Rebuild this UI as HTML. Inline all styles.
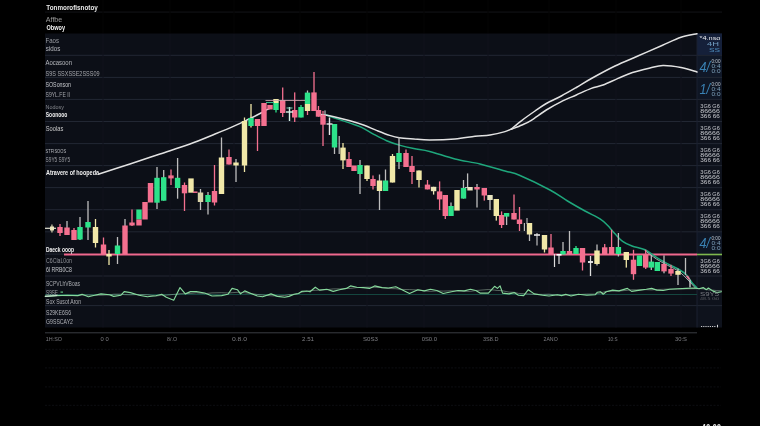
<!DOCTYPE html><html><head><meta charset="utf-8"><title>chart</title><style>html,body{margin:0;padding:0;background:#000;overflow:hidden}svg{display:block;filter:blur(0.45px)}text{font-family:"Liberation Sans",sans-serif}</style></head><body>
<svg width="760" height="426" viewBox="0 0 760 426">
<rect x="0" y="0" width="760" height="426" fill="#000"/>
<rect x="45" y="11.6" width="677" height="0.9" fill="#15161a"/>
<rect x="45" y="33.5" width="652" height="294" fill="#0c0f17"/>
<rect x="697" y="33.5" width="25" height="294" fill="#0e121c"/>
<rect x="697" y="33.5" width="25" height="21.7" fill="#15203a"/>
<rect x="697" y="55.5" width="25" height="21.7" fill="#101828"/>
<rect x="697" y="77.5" width="25" height="21.7" fill="#0f1624"/>
<rect x="697" y="232" width="25" height="22" fill="#0f1624"/>
<rect x="45" y="54.8" width="677" height="1" fill="#222733"/>
<rect x="45" y="76.9" width="677" height="1" fill="#222733"/>
<rect x="45" y="98.9" width="677" height="1" fill="#222733"/>
<rect x="45" y="121.0" width="677" height="1" fill="#222733"/>
<rect x="45" y="143.1" width="677" height="1" fill="#222733"/>
<rect x="45" y="165.1" width="677" height="1" fill="#222733"/>
<rect x="45" y="187.1" width="677" height="1" fill="#222733"/>
<rect x="45" y="209.2" width="677" height="1" fill="#222733"/>
<rect x="45" y="231.3" width="677" height="1" fill="#222733"/>
<rect x="45" y="275.5" width="677" height="1" fill="#222733"/>
<rect x="45" y="305.1" width="677" height="1" fill="#222733"/>
<rect x="45" y="253.6" width="19" height="1" fill="#222733"/>
<rect x="102.5" y="33.5" width="1" height="294" fill="#10131c"/>
<rect x="102.5" y="0" width="1" height="33.5" fill="#040405"/>
<rect x="169.5" y="33.5" width="1" height="294" fill="#10131c"/>
<rect x="169.5" y="0" width="1" height="33.5" fill="#040405"/>
<rect x="233.5" y="33.5" width="1" height="294" fill="#10131c"/>
<rect x="233.5" y="0" width="1" height="33.5" fill="#040405"/>
<rect x="299.5" y="33.5" width="1" height="294" fill="#10131c"/>
<rect x="299.5" y="0" width="1" height="33.5" fill="#040405"/>
<rect x="366.5" y="33.5" width="1" height="294" fill="#10131c"/>
<rect x="366.5" y="0" width="1" height="33.5" fill="#040405"/>
<rect x="423.5" y="33.5" width="1" height="294" fill="#10131c"/>
<rect x="423.5" y="0" width="1" height="33.5" fill="#040405"/>
<rect x="487.5" y="33.5" width="1" height="294" fill="#10131c"/>
<rect x="487.5" y="0" width="1" height="33.5" fill="#040405"/>
<rect x="548.5" y="33.5" width="1" height="294" fill="#10131c"/>
<rect x="548.5" y="0" width="1" height="33.5" fill="#040405"/>
<rect x="615.5" y="33.5" width="1" height="294" fill="#10131c"/>
<rect x="615.5" y="0" width="1" height="33.5" fill="#040405"/>
<rect x="680.5" y="33.5" width="1" height="294" fill="#10131c"/>
<rect x="680.5" y="0" width="1" height="33.5" fill="#040405"/>
<rect x="696.5" y="33.5" width="1" height="294" fill="#1a2030"/>
<line x1="45" x2="721" y1="349.3" y2="349.3" stroke="#0d0e12" stroke-width="1" stroke-dasharray="2 1.5"/>
<line x1="45" x2="721" y1="367.9" y2="367.9" stroke="#0d0e12" stroke-width="1" stroke-dasharray="2 1.5"/>
<line x1="45" x2="721" y1="386.9" y2="386.9" stroke="#0d0e12" stroke-width="1" stroke-dasharray="2 1.5"/>
<line x1="45" x2="721" y1="405.3" y2="405.3" stroke="#0d0e12" stroke-width="1" stroke-dasharray="2 1.5"/>
<rect x="45" y="332.3" width="652" height="1" fill="#3a3c42"/>
<rect x="45" y="294" width="652" height="1" fill="#14463f"/>
<rect x="64" y="253.5" width="633" height="2" fill="#f0688e"/>
<rect x="697" y="253.7" width="25" height="1.6" fill="#7fb84e"/>
<path d="M326.00,114.70 C327.33,115.23 330.00,116.50 334.00,117.90 C338.00,119.30 345.50,121.57 350.00,123.10 C354.50,124.63 357.03,125.23 361.00,127.10 C364.97,128.97 369.53,132.03 373.80,134.30 C378.07,136.57 382.35,138.90 386.60,140.70 C390.85,142.50 394.78,143.78 399.30,145.10 C403.82,146.42 408.65,147.55 413.70,148.60 C418.75,149.65 422.72,149.67 429.60,151.40 C436.48,153.13 446.60,156.90 455.00,159.00 C463.40,161.10 471.67,162.00 480.00,164.00 C488.33,166.00 498.33,169.08 505.00,171.00 C511.67,172.92 512.50,172.33 520.00,175.50 C527.50,178.67 542.08,185.75 550.00,190.00 C557.92,194.25 561.67,197.50 567.50,201.00 C573.33,204.50 579.58,208.03 585.00,211.00 C590.42,213.97 596.25,216.42 600.00,218.80 C603.75,221.18 605.00,222.80 607.50,225.30 C610.00,227.80 612.48,231.13 615.00,233.80 C617.52,236.47 619.77,239.27 622.60,241.30 C625.43,243.33 628.27,244.58 632.00,246.00 C635.73,247.42 640.93,247.92 645.00,249.80 C649.07,251.68 652.62,254.95 656.40,257.30 C660.18,259.65 663.93,261.87 667.70,263.90 C671.47,265.93 675.87,267.65 679.00,269.50 C682.13,271.35 684.33,272.80 686.50,275.00 C688.67,277.20 690.28,280.57 692.00,282.70 C693.72,284.83 696.00,286.95 696.80,287.80" fill="none" stroke="#1fa77c" stroke-width="1.5" stroke-linejoin="round" stroke-linecap="round" />
<path d="M645.00,250.50 C646.90,251.92 652.62,256.52 656.40,259.00 C660.18,261.48 663.93,263.33 667.70,265.40 C671.47,267.47 675.62,268.97 679.00,271.40 C682.38,273.83 685.33,277.30 688.00,280.00 C690.67,282.70 693.83,286.33 695.00,287.60" fill="none" stroke="#9fb0ab" stroke-width="1.0" stroke-linejoin="round" stroke-linecap="round" />
<path d="M99.00,174.00 C104.17,172.33 119.83,167.33 130.00,164.00 C140.17,160.67 150.00,157.33 160.00,154.00 C170.00,150.67 180.83,147.33 190.00,144.00 C199.17,140.67 207.50,137.07 215.00,134.00 C222.50,130.93 229.50,128.02 235.00,125.60 C240.50,123.18 243.67,121.60 248.00,119.50 C252.33,117.40 258.00,114.58 261.00,113.00 C264.00,111.42 264.33,110.83 266.00,110.00 C267.67,109.17 270.17,108.33 271.00,108.00" fill="none" stroke="#e2e2e2" stroke-width="1.5" stroke-linejoin="round" stroke-linecap="round" />
<path d="M321.20,114.40 C323.33,114.78 329.20,115.65 334.00,116.70 C338.80,117.75 344.97,119.28 350.00,120.70 C355.03,122.12 359.70,123.55 364.20,125.20 C368.70,126.85 372.75,128.90 377.00,130.60 C381.25,132.30 385.98,134.20 389.70,135.40 C393.42,136.60 395.30,137.20 399.30,137.80 C403.30,138.40 408.65,138.65 413.70,139.00 C418.75,139.35 422.72,139.90 429.60,139.90 C436.48,139.90 447.43,139.60 455.00,139.00 C462.57,138.40 469.17,136.97 475.00,136.30 C480.83,135.63 485.00,135.78 490.00,135.00 C495.00,134.22 501.40,132.63 505.00,131.60 C508.60,130.57 510.50,129.27 511.60,128.80" fill="none" stroke="#e2e2e2" stroke-width="1.5" stroke-linejoin="round" stroke-linecap="round" />
<path d="M511.60,128.80 C513.33,127.38 518.10,123.27 522.00,120.30 C525.90,117.33 530.95,113.80 535.00,111.00 C539.05,108.20 541.92,106.00 546.30,103.50 C550.68,101.00 556.30,98.67 561.30,96.00 C566.30,93.33 571.28,90.42 576.30,87.50 C581.32,84.58 584.95,82.08 591.40,78.50 C597.85,74.92 607.17,69.78 615.00,66.00 C622.83,62.22 630.57,59.22 638.40,55.80 C646.23,52.38 654.90,48.58 662.00,45.50 C669.10,42.42 675.17,39.25 681.00,37.30 C686.83,35.35 694.33,34.38 697.00,33.80" fill="none" stroke="#e2e2e2" stroke-width="1.5" stroke-linejoin="round" stroke-linecap="round" />
<path d="M511.60,129.20 C513.33,128.50 518.72,126.48 522.00,125.00 C525.28,123.52 527.25,122.80 531.30,120.30 C535.35,117.80 541.30,113.12 546.30,110.00 C551.30,106.88 556.30,104.10 561.30,101.60 C566.30,99.10 571.30,97.20 576.30,95.00 C581.30,92.80 586.85,90.07 591.30,88.40 C595.75,86.73 598.55,86.67 603.00,85.00 C607.45,83.33 613.08,80.48 618.00,78.40 C622.92,76.32 627.17,74.23 632.50,72.50 C637.83,70.77 644.92,69.17 650.00,68.00 C655.08,66.83 657.83,65.58 663.00,65.50 C668.17,65.42 675.33,66.42 681.00,67.50 C686.67,68.58 694.33,71.25 697.00,72.00" fill="none" stroke="#e2e2e2" stroke-width="1.5" stroke-linejoin="round" stroke-linecap="round" />
<rect x="59.35" y="224.0" width="1.3" height="12.0" fill="#f4708f"/>
<rect x="57.30" y="227.0" width="5.4" height="6.0" fill="#f4708f"/>
<rect x="66.35" y="221.0" width="1.3" height="14.0" fill="#bdbdbd"/>
<rect x="64.30" y="227.5" width="5.4" height="7.5" fill="#f4708f"/>
<rect x="73.35" y="228.0" width="1.3" height="12.0" fill="#f4708f"/>
<rect x="71.30" y="230.0" width="5.4" height="10.0" fill="#f4708f"/>
<rect x="79.35" y="217.0" width="1.3" height="23.0" fill="#bdbdbd"/>
<rect x="77.30" y="227.0" width="5.4" height="12.5" fill="#2de38a"/>
<rect x="87.35" y="201.0" width="1.3" height="39.0" fill="#bdbdbd"/>
<rect x="85.30" y="222.0" width="5.4" height="5.5" fill="#2de38a"/>
<rect x="94.85" y="219.0" width="1.3" height="28.5" fill="#f1e8a8"/>
<rect x="92.80" y="227.0" width="5.4" height="16.0" fill="#f1e8a8"/>
<rect x="102.85" y="237.5" width="1.3" height="16.5" fill="#f4708f"/>
<rect x="100.80" y="244.5" width="5.4" height="9.5" fill="#f4708f"/>
<rect x="108.35" y="250.0" width="1.3" height="15.0" fill="#f1e8a8"/>
<rect x="106.30" y="254.0" width="5.4" height="2.5" fill="#f1e8a8"/>
<rect x="116.85" y="237.0" width="1.3" height="27.0" fill="#bdbdbd"/>
<rect x="114.80" y="245.5" width="5.4" height="8.5" fill="#2de38a"/>
<rect x="124.35" y="219.0" width="1.3" height="35.0" fill="#bdbdbd"/>
<rect x="122.30" y="225.5" width="5.4" height="28.5" fill="#f4708f"/>
<rect x="131.35" y="209.5" width="1.3" height="16.5" fill="#f4708f"/>
<rect x="129.30" y="222.5" width="5.4" height="3.0" fill="#f4708f"/>
<rect x="136.30" y="209.5" width="5.4" height="10.0" fill="#2de38a"/>
<rect x="136.30" y="219.5" width="5.4" height="6.0" fill="#f4708f"/>
<rect x="142.30" y="202.0" width="5.4" height="17.5" fill="#f4708f"/>
<rect x="147.80" y="183.0" width="5.4" height="19.5" fill="#f4708f"/>
<rect x="156.35" y="167.0" width="1.3" height="42.0" fill="#bdbdbd"/>
<rect x="154.30" y="177.8" width="5.4" height="24.9" fill="#2de38a"/>
<rect x="163.05" y="170.0" width="1.3" height="30.7" fill="#bdbdbd"/>
<rect x="161.00" y="177.2" width="5.4" height="23.5" fill="#2de38a"/>
<rect x="170.35" y="169.5" width="1.3" height="15.5" fill="#f4708f"/>
<rect x="168.30" y="175.4" width="5.4" height="3.0" fill="#f4708f"/>
<rect x="176.95" y="158.0" width="1.3" height="40.7" fill="#bdbdbd"/>
<rect x="174.90" y="177.8" width="5.4" height="10.2" fill="#2de38a"/>
<rect x="183.85" y="182.5" width="1.3" height="28.5" fill="#f4708f"/>
<rect x="181.80" y="185.0" width="5.4" height="8.3" fill="#f4708f"/>
<rect x="188.30" y="178.4" width="5.4" height="14.3" fill="#f1e8a8"/>
<rect x="199.85" y="189.0" width="1.3" height="21.0" fill="#bdbdbd"/>
<rect x="197.80" y="192.5" width="5.4" height="9.5" fill="#d9d3a8"/>
<rect x="207.35" y="192.0" width="1.3" height="22.5" fill="#bdbdbd"/>
<rect x="205.30" y="195.0" width="5.4" height="7.0" fill="#2de38a"/>
<rect x="213.85" y="165.0" width="1.3" height="40.5" fill="#f4708f"/>
<rect x="211.80" y="191.0" width="5.4" height="11.5" fill="#f4708f"/>
<rect x="220.85" y="137.5" width="1.3" height="56.5" fill="#bdbdbd"/>
<rect x="218.80" y="157.5" width="5.4" height="36.5" fill="#f1e8a8"/>
<rect x="228.35" y="149.5" width="1.3" height="15.0" fill="#f4708f"/>
<rect x="226.30" y="157.0" width="5.4" height="7.5" fill="#f4708f"/>
<rect x="235.35" y="159.0" width="1.3" height="23.0" fill="#bdbdbd"/>
<rect x="233.30" y="162.5" width="5.4" height="3.0" fill="#f1e8a8"/>
<rect x="243.85" y="117.5" width="1.3" height="54.5" fill="#f1e8a8"/>
<rect x="241.80" y="121.0" width="5.4" height="44.5" fill="#f1e8a8"/>
<rect x="250.35" y="104.0" width="1.3" height="23.5" fill="#f1e8a8"/>
<rect x="248.30" y="118.0" width="5.4" height="8.0" fill="#2de38a"/>
<rect x="256.85" y="119.0" width="1.3" height="32.0" fill="#f4708f"/>
<rect x="254.80" y="119.0" width="5.4" height="7.0" fill="#f4708f"/>
<rect x="261.30" y="103.0" width="5.4" height="23.0" fill="#f4708f"/>
<rect x="267.30" y="105.0" width="5.4" height="4.5" fill="#f4708f"/>
<rect x="273.30" y="99.0" width="5.4" height="4.0" fill="#f1e8a8"/>
<rect x="275.35" y="103.0" width="1.3" height="9.5" fill="#2de38a"/>
<rect x="273.30" y="103.0" width="5.4" height="7.0" fill="#2de38a"/>
<rect x="282.05" y="87.5" width="1.3" height="29.5" fill="#f4708f"/>
<rect x="280.00" y="100.0" width="5.4" height="13.0" fill="#f4708f"/>
<rect x="294.05" y="92.4" width="1.3" height="29.6" fill="#f4708f"/>
<rect x="292.00" y="110.0" width="5.4" height="7.5" fill="#f4708f"/>
<rect x="300.35" y="105.0" width="1.3" height="12.5" fill="#2de38a"/>
<rect x="298.30" y="107.0" width="5.4" height="10.5" fill="#2de38a"/>
<rect x="306.85" y="90.5" width="1.3" height="13.5" fill="#bdbdbd"/>
<rect x="304.80" y="92.6" width="5.4" height="11.4" fill="#2de38a"/>
<rect x="306.85" y="104.0" width="1.3" height="11.0" fill="#f4708f"/>
<rect x="304.80" y="104.0" width="5.4" height="7.0" fill="#f1e8a8"/>
<rect x="313.35" y="72.0" width="1.3" height="39.0" fill="#f4708f"/>
<rect x="311.30" y="92.4" width="5.4" height="18.6" fill="#f4708f"/>
<rect x="317.85" y="106.0" width="1.3" height="10.7" fill="#f4708f"/>
<rect x="315.80" y="110.0" width="5.4" height="6.7" fill="#f4708f"/>
<rect x="322.35" y="111.0" width="1.3" height="35.0" fill="#f4708f"/>
<rect x="320.30" y="115.0" width="5.4" height="9.7" fill="#f4708f"/>
<rect x="333.85" y="124.0" width="1.3" height="30.0" fill="#bdbdbd"/>
<rect x="331.80" y="124.0" width="5.4" height="23.5" fill="#2de38a"/>
<rect x="342.35" y="143.0" width="1.3" height="26.0" fill="#f1e8a8"/>
<rect x="340.30" y="147.6" width="5.4" height="12.8" fill="#f1e8a8"/>
<rect x="348.35" y="152.0" width="1.3" height="15.0" fill="#f4708f"/>
<rect x="346.30" y="159.0" width="5.4" height="8.0" fill="#f4708f"/>
<rect x="351.30" y="165.5" width="5.4" height="5.5" fill="#f4708f"/>
<rect x="359.35" y="160.0" width="1.3" height="34.0" fill="#bdbdbd"/>
<rect x="357.30" y="165.0" width="5.4" height="9.0" fill="#2de38a"/>
<rect x="366.35" y="165.5" width="1.3" height="15.5" fill="#f1e8a8"/>
<rect x="364.30" y="165.5" width="5.4" height="13.5" fill="#f1e8a8"/>
<rect x="372.35" y="175.5" width="1.3" height="14.0" fill="#f4708f"/>
<rect x="370.30" y="179.0" width="5.4" height="7.0" fill="#f4708f"/>
<rect x="378.85" y="174.5" width="1.3" height="35.5" fill="#bdbdbd"/>
<rect x="376.80" y="180.5" width="5.4" height="10.5" fill="#f1e8a8"/>
<rect x="384.85" y="169.5" width="1.3" height="21.5" fill="#bdbdbd"/>
<rect x="382.80" y="180.5" width="5.4" height="10.5" fill="#2de38a"/>
<rect x="391.85" y="154.0" width="1.3" height="28.5" fill="#f1e8a8"/>
<rect x="389.80" y="156.0" width="5.4" height="26.5" fill="#f1e8a8"/>
<rect x="398.35" y="137.0" width="1.3" height="32.0" fill="#bdbdbd"/>
<rect x="396.30" y="153.0" width="5.4" height="9.0" fill="#2de38a"/>
<rect x="405.35" y="149.5" width="1.3" height="17.5" fill="#f4708f"/>
<rect x="403.30" y="153.0" width="5.4" height="14.0" fill="#f4708f"/>
<rect x="411.35" y="156.0" width="1.3" height="28.0" fill="#f4708f"/>
<rect x="409.30" y="166.0" width="5.4" height="6.0" fill="#f4708f"/>
<rect x="418.35" y="170.5" width="1.3" height="17.0" fill="#f1e8a8"/>
<rect x="416.30" y="170.5" width="5.4" height="9.5" fill="#f1e8a8"/>
<rect x="426.85" y="180.0" width="1.3" height="9.4" fill="#f4708f"/>
<rect x="424.80" y="184.6" width="5.4" height="4.8" fill="#f4708f"/>
<rect x="432.95" y="186.8" width="1.3" height="7.8" fill="#ece6b8"/>
<rect x="430.90" y="186.8" width="5.4" height="4.4" fill="#ece6b8"/>
<rect x="438.95" y="181.4" width="1.3" height="28.6" fill="#f4708f"/>
<rect x="436.90" y="191.4" width="5.4" height="8.0" fill="#f4708f"/>
<rect x="444.65" y="195.0" width="1.3" height="24.0" fill="#f4708f"/>
<rect x="442.60" y="195.0" width="5.4" height="21.0" fill="#f4708f"/>
<rect x="450.35" y="202.5" width="1.3" height="13.5" fill="#bdbdbd"/>
<rect x="448.30" y="206.0" width="5.4" height="10.0" fill="#2de38a"/>
<rect x="454.30" y="190.0" width="5.4" height="20.6" fill="#f1e8a8"/>
<rect x="462.85" y="180.0" width="1.3" height="18.6" fill="#bdbdbd"/>
<rect x="460.80" y="188.0" width="5.4" height="10.6" fill="#2de38a"/>
<rect x="466.95" y="173.4" width="1.3" height="14.6" fill="#bdbdbd"/>
<rect x="464.90" y="187.0" width="5.4" height="1.0" fill="#bdbdbd"/>
<rect x="467.30" y="187.0" width="5.4" height="3.5" fill="#e8e4c0"/>
<rect x="476.35" y="184.0" width="1.3" height="23.5" fill="#bdbdbd"/>
<rect x="474.30" y="187.0" width="5.4" height="2.5" fill="#f4708f"/>
<rect x="483.65" y="188.0" width="1.3" height="12.6" fill="#f4708f"/>
<rect x="481.60" y="188.0" width="5.4" height="7.5" fill="#f4708f"/>
<rect x="489.35" y="195.0" width="1.3" height="15.0" fill="#bdbdbd"/>
<rect x="487.30" y="195.0" width="5.4" height="5.0" fill="#e8e4c0"/>
<rect x="495.65" y="199.0" width="1.3" height="21.6" fill="#f1e8a8"/>
<rect x="493.60" y="199.0" width="5.4" height="17.0" fill="#f1e8a8"/>
<rect x="500.95" y="211.4" width="1.3" height="16.6" fill="#f4708f"/>
<rect x="498.90" y="215.0" width="5.4" height="10.0" fill="#f4708f"/>
<rect x="505.95" y="213.0" width="1.3" height="12.0" fill="#bdbdbd"/>
<rect x="503.90" y="213.0" width="5.4" height="3.6" fill="#2de38a"/>
<rect x="513.35" y="194.5" width="1.3" height="25.0" fill="#f4708f"/>
<rect x="511.30" y="213.0" width="5.4" height="6.5" fill="#f4708f"/>
<rect x="518.85" y="207.0" width="1.3" height="24.0" fill="#f4708f"/>
<rect x="516.80" y="219.5" width="5.4" height="4.5" fill="#f4708f"/>
<rect x="528.85" y="223.0" width="1.3" height="18.0" fill="#bdbdbd"/>
<rect x="526.80" y="223.0" width="5.4" height="11.5" fill="#f1e8a8"/>
<rect x="543.85" y="235.0" width="1.3" height="17.5" fill="#f1e8a8"/>
<rect x="541.80" y="235.0" width="5.4" height="14.5" fill="#f1e8a8"/>
<rect x="550.35" y="234.0" width="1.3" height="20.0" fill="#f4708f"/>
<rect x="548.30" y="247.5" width="5.4" height="6.5" fill="#f4708f"/>
<rect x="562.35" y="242.0" width="1.3" height="12.5" fill="#bdbdbd"/>
<rect x="560.30" y="251.0" width="5.4" height="3.5" fill="#2de38a"/>
<rect x="568.85" y="231.0" width="1.3" height="23.5" fill="#bdbdbd"/>
<rect x="566.80" y="251.0" width="5.4" height="3.5" fill="#f4708f"/>
<rect x="575.35" y="246.0" width="1.3" height="8.0" fill="#2de38a"/>
<rect x="573.30" y="248.0" width="5.4" height="6.0" fill="#2de38a"/>
<rect x="581.85" y="248.0" width="1.3" height="22.5" fill="#f4708f"/>
<rect x="579.80" y="248.0" width="5.4" height="14.5" fill="#f4708f"/>
<rect x="596.35" y="244.5" width="1.3" height="21.0" fill="#bdbdbd"/>
<rect x="594.30" y="250.5" width="5.4" height="13.5" fill="#f1e8a8"/>
<rect x="604.05" y="244.0" width="1.3" height="10.8" fill="#f4708f"/>
<rect x="602.00" y="247.3" width="5.4" height="7.5" fill="#f4708f"/>
<rect x="610.95" y="229.7" width="1.3" height="25.1" fill="#f4708f"/>
<rect x="608.90" y="247.0" width="5.4" height="7.8" fill="#f4708f"/>
<rect x="617.75" y="233.0" width="1.3" height="23.5" fill="#bdbdbd"/>
<rect x="615.70" y="247.0" width="5.4" height="7.0" fill="#2de38a"/>
<rect x="625.65" y="252.0" width="1.3" height="15.6" fill="#f1e8a8"/>
<rect x="623.60" y="252.0" width="5.4" height="8.0" fill="#f1e8a8"/>
<rect x="632.85" y="249.8" width="1.3" height="30.0" fill="#f4708f"/>
<rect x="630.80" y="259.7" width="5.4" height="14.5" fill="#f4708f"/>
<rect x="636.80" y="255.4" width="5.4" height="10.6" fill="#2de38a"/>
<rect x="645.05" y="249.8" width="1.3" height="19.2" fill="#f4708f"/>
<rect x="643.00" y="254.5" width="5.4" height="13.1" fill="#f4708f"/>
<rect x="650.65" y="255.0" width="1.3" height="15.0" fill="#bdbdbd"/>
<rect x="648.60" y="261.6" width="5.4" height="6.0" fill="#2de38a"/>
<rect x="654.60" y="262.0" width="5.4" height="9.0" fill="#2de38a"/>
<rect x="663.35" y="255.4" width="1.3" height="17.9" fill="#bdbdbd"/>
<rect x="661.30" y="263.9" width="5.4" height="7.5" fill="#f4708f"/>
<rect x="670.35" y="264.8" width="1.3" height="11.2" fill="#f4708f"/>
<rect x="668.30" y="269.0" width="5.4" height="4.6" fill="#f4708f"/>
<rect x="677.35" y="268.6" width="1.3" height="16.4" fill="#bdbdbd"/>
<rect x="675.30" y="271.0" width="5.4" height="3.8" fill="#f1e8a8"/>
<rect x="523.80" y="223.0" width="1.2" height="8.0" fill="#bdbdbd"/>
<rect x="526.45" y="218.0" width="1.1" height="6.0" fill="#bdbdbd"/>
<rect x="338.60" y="136.0" width="1.2" height="18.0" fill="#bdbdbd"/>
<rect x="324.40" y="110.4" width="1.2" height="4.6" fill="#bdbdbd"/>
<rect x="536.40" y="233.0" width="1.2" height="12.5" fill="#bdbdbd"/>
<rect x="553.90" y="254.0" width="1.2" height="13.0" fill="#dddddd"/>
<rect x="558.40" y="254.0" width="1.2" height="10.0" fill="#dddddd"/>
<rect x="589.85" y="256.0" width="1.3" height="20.0" fill="#dddddd"/>
<rect x="684.85" y="258.0" width="1.3" height="17.0" fill="#bdbdbd"/>
<rect x="689.35" y="279.8" width="1.3" height="7.6" fill="#d8d8d8"/>
<rect x="288.80" y="107.0" width="1.4" height="14.0" fill="#d6efe6"/>
<rect x="328.80" y="117.5" width="1.4" height="17.5" fill="#e6e6e6"/>
<rect x="45.0" y="227.70" width="11.0" height="1.2" fill="#e0e0d0"/>
<rect x="193.0" y="191.45" width="4.5" height="1.5" fill="#f4708f"/>
<rect x="286.0" y="111.30" width="7.0" height="1.4" fill="#d6efe6"/>
<rect x="286.5" y="107.50" width="6.0" height="1.0" fill="#7fd4b8"/>
<rect x="326.5" y="123.30" width="6.0" height="1.4" fill="#e6e6e6"/>
<rect x="534.0" y="234.20" width="6.0" height="1.6" fill="#e6e6e6"/>
<rect x="556.5" y="254.00" width="5.0" height="1.6" fill="#ffffff"/>
<rect x="588.0" y="261.10" width="5.0" height="1.8" fill="#eeeeee"/>
<rect x="265.5" y="99.95" width="39.5" height="0.9" fill="#c9a0a8"/>
<rect x="266.0" y="102.00" width="8.0" height="1.0" fill="#35b98a"/>
<rect x="50" y="226.5" width="4" height="4" fill="#ece7bd"/><rect x="51.4" y="224.5" width="1.1" height="8" fill="#ece7bd"/>
<polygon points="685.5,275.5 688,275.8 690.5,279.5 688.5,279.8" fill="#f07a9a"/>
<polyline points="45.3,295.7 56.8,295.4 67.4,295.7 77.9,295.6 82.1,295.2 88.4,295.1 94.7,295.3 101.0,295.2 109.5,294.8 113.7,294.2 121.0,294.2 124.2,294.6 130.5,294.8 139.0,294.5 147.4,294.8 155.8,296.0 161.7,295.3 166.3,295.1 173.7,294.4 180.0,293.8 185.3,293.6 190.5,293.4 196.3,292.8 204.7,293.7 212.0,292.9 221.6,292.7 227.9,293.0 232.1,292.7 237.4,292.3 240.5,292.4 244.7,292.7 251.0,293.5 257.4,294.5 262.6,295.0 271.0,295.8 277.4,295.9 284.7,295.5 289.0,294.7 294.2,294.3 298.4,293.7 301.6,292.2 306.8,291.3 310.0,290.6 315.3,290.3 319.5,290.1 326.8,289.7 333.2,288.9 339.5,288.9 346.3,288.5 350.5,288.4 356.8,287.6 363.2,287.3 369.5,287.2 374.7,287.3 382.1,287.6 388.4,288.5 395.8,288.7 401.0,289.4 409.5,289.6 417.9,290.0 424.2,291.0 430.5,291.3 436.8,290.9 443.2,291.1 451.6,290.8 457.9,291.0 464.2,291.4 470.5,291.3 475.8,290.5 480.0,290.2 488.4,289.5 494.6,290.1 497.4,290.5 500.1,290.5 502.6,290.8 509.0,292.1 514.2,292.3 518.4,293.4 523.7,293.7 528.3,294.0 534.2,294.3 542.6,294.4 549.0,294.2 557.4,295.1 561.6,295.2 565.8,295.2 571.0,295.0 578.4,294.6 586.8,294.1 595.3,294.1 597.4,293.5 600.5,292.9 603.2,292.2 606.3,291.3 612.6,291.2 619.0,291.0 627.4,290.3 631.6,289.8 640.0,289.8 646.3,289.7 651.6,289.9 656.8,289.5 663.2,289.3 669.5,289.1 677.9,289.1 686.3,288.8 694.7,288.7 699.0,288.5 703.2,288.8 706.3,289.4 708.4,289.9 712.6,290.1 716.8,290.6 721.5,290.8" fill="none" stroke="#b9d8bf" stroke-width="0.8" stroke-linejoin="round" stroke-linecap="round" opacity="0.55"/>
<polyline points="45.3,296.4 56.8,295.6 67.4,295.2 77.9,295.6 82.1,294.3 88.4,296.8 94.7,295.2 101.0,293.9 109.5,294.7 113.7,296.4 121.0,295.2 124.2,291.6 130.5,292.6 139.0,295.2 147.4,296.8 155.8,295.8 161.7,294.3 166.3,297.3 173.7,300.2 180.0,287.6 185.3,293.9 190.5,291.6 196.3,291.6 204.7,293.0 212.0,296.0 221.6,295.6 227.9,294.3 232.1,288.4 237.4,289.7 240.5,293.9 244.7,290.9 251.0,293.5 257.4,296.0 262.6,296.8 271.0,293.9 277.4,296.4 284.7,297.3 289.0,296.4 294.2,294.3 298.4,293.5 301.6,291.4 306.8,291.0 310.0,291.8 315.3,287.2 319.5,290.1 326.8,289.3 333.2,291.4 339.5,289.7 346.3,288.4 350.5,285.9 356.8,287.2 363.2,287.6 369.5,288.4 374.7,285.9 382.1,287.6 388.4,288.0 395.8,286.7 401.0,289.3 409.5,293.5 417.9,289.7 424.2,290.9 430.5,289.3 436.8,290.5 443.2,293.5 451.6,291.8 457.9,290.5 464.2,290.9 470.5,289.3 475.8,290.5 480.0,293.1 488.4,293.1 494.6,286.3 497.4,288.4 500.1,285.9 502.6,293.1 509.0,293.9 514.2,292.6 518.4,295.2 523.7,295.6 528.3,289.7 534.2,293.9 542.6,295.2 549.0,296.0 557.4,294.7 561.6,295.6 565.8,294.3 571.0,296.0 578.4,294.3 586.8,295.2 595.3,294.7 597.4,292.2 600.5,291.8 603.2,294.2 606.3,291.8 612.6,290.1 619.0,290.9 627.4,288.4 631.6,291.4 640.0,290.1 646.3,289.3 651.6,288.4 656.8,290.1 663.2,290.5 669.5,289.3 677.9,288.8 686.3,288.4 694.7,288.0 699.0,288.8 703.2,287.6 706.3,289.7 708.4,288.0 712.6,290.9 716.8,292.6 721.5,291.8" fill="none" stroke="#86d99c" stroke-width="1.15" stroke-linejoin="round" stroke-linecap="round" />
<polyline points="45.3,296.4 56.8,295.6" fill="none" stroke="#cfe6d4" stroke-width="1.0" stroke-linejoin="round" stroke-linecap="round" />
<text x="46.3" y="10.2" font-size="7.2" fill="#e8e8e8" font-weight="bold" text-anchor="start" textLength="51.5" lengthAdjust="spacingAndGlyphs">Tonmorofisnotoy</text>
<text x="45.8" y="22.2" font-size="6.6" fill="#9a9a9a" font-weight="normal" text-anchor="start" textLength="16.5" lengthAdjust="spacingAndGlyphs">Affbe</text>
<text x="46.5" y="30.2" font-size="7.2" fill="#f2f2f2" font-weight="bold" text-anchor="start" textLength="18.5" lengthAdjust="spacingAndGlyphs">Obwoy</text>
<text x="45.5" y="42.9" font-size="6.4" fill="#9a9ca2" font-weight="normal" text-anchor="start" textLength="13.5" lengthAdjust="spacingAndGlyphs">Faos</text>
<text x="45.8" y="51.4" font-size="6.4" fill="#b8bac0" font-weight="normal" text-anchor="start" textLength="14.5" lengthAdjust="spacingAndGlyphs">sidos</text>
<text x="45.5" y="65.4" font-size="6.4" fill="#b4b6bb" font-weight="normal" text-anchor="start" textLength="26.5" lengthAdjust="spacingAndGlyphs">Aocasoon</text>
<text x="45.5" y="75.8" font-size="6.6" fill="#a4a6ab" font-weight="normal" text-anchor="start" textLength="54.0" lengthAdjust="spacingAndGlyphs">S9S SSXSSE2SSS09</text>
<text x="45.5" y="86.9" font-size="6.6" fill="#c4c6ca" font-weight="normal" text-anchor="start" textLength="25.5" lengthAdjust="spacingAndGlyphs">SOSonson</text>
<text x="45.5" y="96.5" font-size="6.6" fill="#a4a6ab" font-weight="normal" text-anchor="start" textLength="24.5" lengthAdjust="spacingAndGlyphs">S9YL.FE II</text>
<text x="45.5" y="108.7" font-size="6.2" fill="#85878d" font-weight="normal" text-anchor="start" textLength="18.5" lengthAdjust="spacingAndGlyphs">Nodosy</text>
<text x="45.8" y="117.1" font-size="6.8" fill="#ececec" font-weight="bold" text-anchor="start" textLength="21.5" lengthAdjust="spacingAndGlyphs">Soonooo</text>
<text x="45.8" y="130.8" font-size="6.8" fill="#c8c8c8" font-weight="normal" text-anchor="start" textLength="17.5" lengthAdjust="spacingAndGlyphs">Soolas</text>
<text x="45.6" y="153.2" font-size="5.4" fill="#b8babf" font-weight="normal" text-anchor="start" textLength="20.5" lengthAdjust="spacingAndGlyphs">STFISOOS</text>
<text x="45.6" y="162.2" font-size="6.4" fill="#9c9ea4" font-weight="normal" text-anchor="start" textLength="24.5" lengthAdjust="spacingAndGlyphs">S9Y5 S9Y5</text>
<text x="46.0" y="175.3" font-size="7.0" fill="#f0f0f0" font-weight="bold" text-anchor="start" textLength="53.0" lengthAdjust="spacingAndGlyphs">Atravere of hoopeda</text>
<text x="46.0" y="252.0" font-size="7.0" fill="#f0f0f0" font-weight="bold" text-anchor="start" textLength="28.0" lengthAdjust="spacingAndGlyphs">Daeck ooop</text>
<text x="46.0" y="263.0" font-size="6.4" fill="#8e9096" font-weight="normal" text-anchor="start" textLength="26.0" lengthAdjust="spacingAndGlyphs">C6ClaL0on</text>
<text x="46.0" y="271.6" font-size="6.6" fill="#c2c4c8" font-weight="normal" text-anchor="start" textLength="26.0" lengthAdjust="spacingAndGlyphs">6l RRB0C8</text>
<text x="46.0" y="285.6" font-size="6.6" fill="#a9abb0" font-weight="normal" text-anchor="start" textLength="34.0" lengthAdjust="spacingAndGlyphs">SCPVLhVBoas</text>
<text x="46.0" y="294.9" font-size="6.4" fill="#9c9ea4" font-weight="normal" text-anchor="start" textLength="12.0" lengthAdjust="spacingAndGlyphs">S9SE</text>
<text x="46.0" y="303.7" font-size="6.4" fill="#b0b2b7" font-weight="normal" text-anchor="start" textLength="35.0" lengthAdjust="spacingAndGlyphs">Sox Susot Aron</text>
<text x="46.0" y="314.5" font-size="6.6" fill="#b0b2b7" font-weight="normal" text-anchor="start" textLength="25.0" lengthAdjust="spacingAndGlyphs">S29KE6S6</text>
<text x="46.0" y="323.7" font-size="6.6" fill="#b0b2b7" font-weight="normal" text-anchor="start" textLength="27.0" lengthAdjust="spacingAndGlyphs">G9SSCAY2</text>
<rect x="60.5" y="291.5" width="2.5" height="1.2" fill="#5fbf7f"/>
<text x="45.7" y="341.0" font-size="6.2" fill="#7d7e83" font-weight="normal" text-anchor="start" textLength="16.3" lengthAdjust="spacingAndGlyphs">1H:SO</text>
<text x="100.6" y="341.0" font-size="6.2" fill="#7d7e83" font-weight="normal" text-anchor="start" textLength="8.1" lengthAdjust="spacingAndGlyphs">0 0</text>
<text x="167.0" y="341.0" font-size="6.2" fill="#7d7e83" font-weight="normal" text-anchor="start" textLength="10.0" lengthAdjust="spacingAndGlyphs">8/.O</text>
<text x="232.0" y="341.0" font-size="6.2" fill="#7d7e83" font-weight="normal" text-anchor="start" textLength="15.0" lengthAdjust="spacingAndGlyphs">0.8.0</text>
<text x="302.0" y="341.0" font-size="6.2" fill="#7d7e83" font-weight="normal" text-anchor="start" textLength="12.0" lengthAdjust="spacingAndGlyphs">2.51</text>
<text x="363.0" y="341.0" font-size="6.2" fill="#7d7e83" font-weight="normal" text-anchor="start" textLength="15.0" lengthAdjust="spacingAndGlyphs">S0S3</text>
<text x="421.7" y="341.0" font-size="6.2" fill="#7d7e83" font-weight="normal" text-anchor="start" textLength="15.3" lengthAdjust="spacingAndGlyphs">0S0.0</text>
<text x="483.0" y="341.0" font-size="6.2" fill="#7d7e83" font-weight="normal" text-anchor="start" textLength="15.5" lengthAdjust="spacingAndGlyphs">3S8.D</text>
<text x="543.5" y="341.0" font-size="6.2" fill="#7d7e83" font-weight="normal" text-anchor="start" textLength="14.2" lengthAdjust="spacingAndGlyphs">2ANO</text>
<text x="608.0" y="341.0" font-size="6.2" fill="#7d7e83" font-weight="normal" text-anchor="start" textLength="9.5" lengthAdjust="spacingAndGlyphs">10:S</text>
<text x="675.0" y="341.0" font-size="6.2" fill="#7d7e83" font-weight="normal" text-anchor="start" textLength="12.0" lengthAdjust="spacingAndGlyphs">30:S</text>
<text x="700.3" y="107.8" font-size="5.0" fill="#c9cbd0" font-weight="normal" text-anchor="start" textLength="19.5" lengthAdjust="spacingAndGlyphs">3G6 G6</text>
<text x="700.3" y="112.8" font-size="5.0" fill="#c9cbd0" font-weight="normal" text-anchor="start" textLength="19.5" lengthAdjust="spacingAndGlyphs">86666</text>
<text x="700.3" y="117.8" font-size="5.0" fill="#c9cbd0" font-weight="normal" text-anchor="start" textLength="19.5" lengthAdjust="spacingAndGlyphs">366 66</text>
<text x="700.3" y="129.9" font-size="5.0" fill="#c9cbd0" font-weight="normal" text-anchor="start" textLength="19.5" lengthAdjust="spacingAndGlyphs">3G6 G6</text>
<text x="700.3" y="134.9" font-size="5.0" fill="#c9cbd0" font-weight="normal" text-anchor="start" textLength="19.5" lengthAdjust="spacingAndGlyphs">86666</text>
<text x="700.3" y="139.9" font-size="5.0" fill="#c9cbd0" font-weight="normal" text-anchor="start" textLength="19.5" lengthAdjust="spacingAndGlyphs">366 66</text>
<text x="700.3" y="152.0" font-size="5.0" fill="#c9cbd0" font-weight="normal" text-anchor="start" textLength="19.5" lengthAdjust="spacingAndGlyphs">3G6 G6</text>
<text x="700.3" y="157.0" font-size="5.0" fill="#c9cbd0" font-weight="normal" text-anchor="start" textLength="19.5" lengthAdjust="spacingAndGlyphs">86666</text>
<text x="700.3" y="162.0" font-size="5.0" fill="#c9cbd0" font-weight="normal" text-anchor="start" textLength="19.5" lengthAdjust="spacingAndGlyphs">366 66</text>
<text x="700.3" y="174.0" font-size="5.0" fill="#c9cbd0" font-weight="normal" text-anchor="start" textLength="19.5" lengthAdjust="spacingAndGlyphs">3G6 G6</text>
<text x="700.3" y="179.0" font-size="5.0" fill="#c9cbd0" font-weight="normal" text-anchor="start" textLength="19.5" lengthAdjust="spacingAndGlyphs">86666</text>
<text x="700.3" y="184.0" font-size="5.0" fill="#c9cbd0" font-weight="normal" text-anchor="start" textLength="19.5" lengthAdjust="spacingAndGlyphs">366 66</text>
<text x="700.3" y="196.0" font-size="5.0" fill="#c9cbd0" font-weight="normal" text-anchor="start" textLength="19.5" lengthAdjust="spacingAndGlyphs">3G6 G6</text>
<text x="700.3" y="201.0" font-size="5.0" fill="#c9cbd0" font-weight="normal" text-anchor="start" textLength="19.5" lengthAdjust="spacingAndGlyphs">86666</text>
<text x="700.3" y="206.0" font-size="5.0" fill="#c9cbd0" font-weight="normal" text-anchor="start" textLength="19.5" lengthAdjust="spacingAndGlyphs">366 66</text>
<text x="700.3" y="218.1" font-size="5.0" fill="#c9cbd0" font-weight="normal" text-anchor="start" textLength="19.5" lengthAdjust="spacingAndGlyphs">3G6 G6</text>
<text x="700.3" y="223.1" font-size="5.0" fill="#c9cbd0" font-weight="normal" text-anchor="start" textLength="19.5" lengthAdjust="spacingAndGlyphs">86666</text>
<text x="700.3" y="228.1" font-size="5.0" fill="#c9cbd0" font-weight="normal" text-anchor="start" textLength="19.5" lengthAdjust="spacingAndGlyphs">366 66</text>
<text x="700.3" y="262.9" font-size="5.0" fill="#c9cbd0" font-weight="normal" text-anchor="start" textLength="19.5" lengthAdjust="spacingAndGlyphs">3G6 G6</text>
<text x="700.3" y="267.9" font-size="5.0" fill="#c9cbd0" font-weight="normal" text-anchor="start" textLength="19.5" lengthAdjust="spacingAndGlyphs">86666</text>
<text x="700.3" y="272.9" font-size="5.0" fill="#c9cbd0" font-weight="normal" text-anchor="start" textLength="19.5" lengthAdjust="spacingAndGlyphs">366 66</text>
<text x="699.5" y="71.8" font-size="14" font-style="italic" fill="#3a82b4" font-weight="normal" textLength="10.5" lengthAdjust="spacingAndGlyphs">4/</text>
<text x="711.5" y="63.4" font-size="4.6" fill="#c0c8d2" font-weight="normal" text-anchor="start" textLength="9.0" lengthAdjust="spacingAndGlyphs">0:00</text>
<text x="711.5" y="68.4" font-size="4.6" fill="#7fa2bc" font-weight="normal" text-anchor="start" textLength="9.0" lengthAdjust="spacingAndGlyphs">0:4</text>
<text x="711.5" y="73.4" font-size="4.6" fill="#7fa2bc" font-weight="normal" text-anchor="start" textLength="9.0" lengthAdjust="spacingAndGlyphs">0:0</text>
<text x="699.5" y="93.9" font-size="14" font-style="italic" fill="#3a82b4" font-weight="normal" textLength="10.5" lengthAdjust="spacingAndGlyphs">1/</text>
<text x="711.5" y="85.5" font-size="4.6" fill="#c0c8d2" font-weight="normal" text-anchor="start" textLength="9.0" lengthAdjust="spacingAndGlyphs">0:00</text>
<text x="711.5" y="90.5" font-size="4.6" fill="#7fa2bc" font-weight="normal" text-anchor="start" textLength="9.0" lengthAdjust="spacingAndGlyphs">0:4</text>
<text x="711.5" y="95.5" font-size="4.6" fill="#7fa2bc" font-weight="normal" text-anchor="start" textLength="9.0" lengthAdjust="spacingAndGlyphs">0:0</text>
<text x="699.5" y="248.3" font-size="14" font-style="italic" fill="#3a82b4" font-weight="normal" textLength="10.5" lengthAdjust="spacingAndGlyphs">4/</text>
<text x="711.5" y="239.9" font-size="4.6" fill="#c0c8d2" font-weight="normal" text-anchor="start" textLength="9.0" lengthAdjust="spacingAndGlyphs">0:00</text>
<text x="711.5" y="244.9" font-size="4.6" fill="#7fa2bc" font-weight="normal" text-anchor="start" textLength="9.0" lengthAdjust="spacingAndGlyphs">0:4</text>
<text x="711.5" y="249.9" font-size="4.6" fill="#7fa2bc" font-weight="normal" text-anchor="start" textLength="9.0" lengthAdjust="spacingAndGlyphs">0:0</text>
<text x="699.5" y="40.0" font-size="5" fill="#e6e8ec" font-weight="normal" text-anchor="start" textLength="21.0" lengthAdjust="spacingAndGlyphs">*4.nso</text>
<text x="707.0" y="45.5" font-size="4.6" fill="#6f9cc0" font-weight="normal" text-anchor="start" textLength="12.0" lengthAdjust="spacingAndGlyphs">4H</text>
<text x="709.0" y="52.0" font-size="6" fill="#4f8fc0" font-weight="normal" text-anchor="start" textLength="11.0" lengthAdjust="spacingAndGlyphs">SS</text>
<text x="700.0" y="296.0" font-size="5.5" fill="#7c7e84" font-weight="normal" text-anchor="start" textLength="19.0" lengthAdjust="spacingAndGlyphs">S9Y5</text>
<text x="700.0" y="300.3" font-size="4.4" fill="#5c5e64" font-weight="normal" text-anchor="start" textLength="19.0" lengthAdjust="spacingAndGlyphs">48.5 G0</text>
<line x1="701" x2="716" y1="326.5" y2="326.5" stroke="#c8c8c8" stroke-width="1.2" stroke-dasharray="1.2 1"/>
<rect x="717" y="324.8" width="1" height="2.6" fill="#d8d8d8"/>
<text x="701.6" y="431.5" font-size="10" fill="#e6e6e6" font-weight="bold" text-anchor="start" textLength="19.5" lengthAdjust="spacingAndGlyphs">40.00</text>
</svg></body></html>
